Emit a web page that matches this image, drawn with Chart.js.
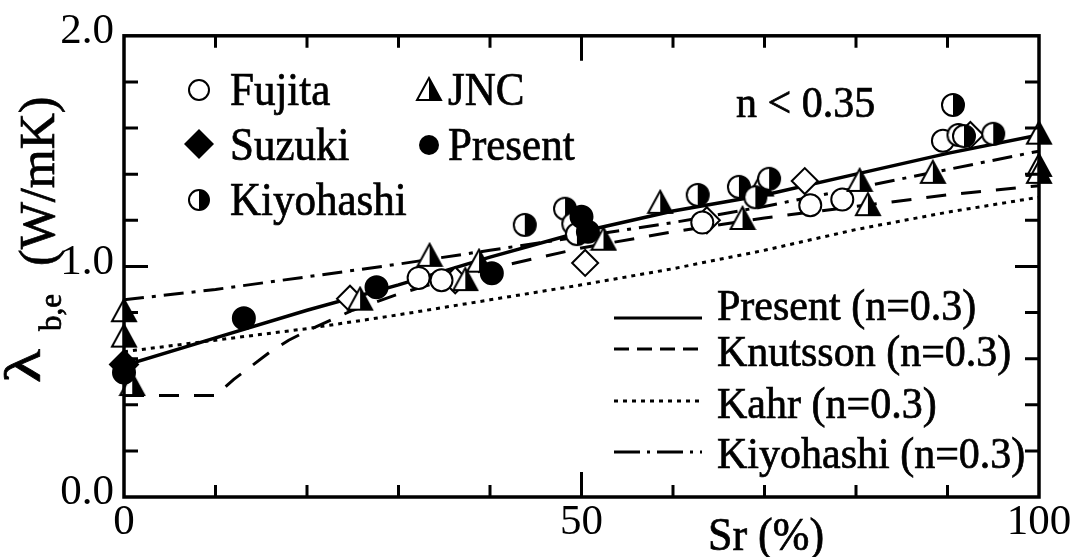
<!DOCTYPE html>
<html>
<head>
<meta charset="utf-8">
<script src="https://cdn.jsdelivr.net/npm/chart.js@4.4.0/dist/chart.umd.min.js"></script>
<style>
  body { margin: 0; background: #fff; }
  #wrap { width: 1077px; height: 557px; }
</style>
</head>
<body>
<div id="wrap"><canvas id="chart" width="1077" height="557"></canvas></div>
<script>
// model curves (n = 0.3)
const srModel = [0, 10, 20, 30, 40, 50, 60, 70, 80, 90, 100];
const presentModel = [0.57, 0.69, 0.81, 0.92, 1.04, 1.15, 1.24, 1.31, 1.40, 1.49, 1.57];
const kahrModel = [0.63, 0.68, 0.73, 0.79, 0.855, 0.92, 0.99, 1.07, 1.16, 1.235, 1.30];
const kiyohashiModel = [0.855, 0.90, 0.955, 1.01, 1.07, 1.13, 1.19, 1.26, 1.34, 1.42, 1.50];
const srKnutsson = [0, 10, 12, 14, 16, 18, 20, 25, 30, 35, 40, 50, 60, 70, 80, 90, 100];
const knutssonModel = [0.44, 0.44, 0.51, 0.57, 0.63, 0.68, 0.72, 0.81, 0.88, 0.94, 0.99, 1.08, 1.15, 1.21, 1.26, 1.31, 1.35];

// measured data
const fujitaSr = [32.2, 34.7, 63.2, 75.0, 78.5, 89.5];
const fujitaK = [0.95, 0.94, 1.19, 1.265, 1.29, 1.545];
const suzukiSr = [0];
const suzukiK = [0.575];
const kiyohashiSr = [43.8, 48.2, 49.1, 49.5, 62.7, 67.2, 69.0, 70.5, 90.6, 91.2, 91.8, 95.0];
const kiyohashiK = [1.18, 1.25, 1.185, 1.14, 1.31, 1.345, 1.30, 1.38, 1.70, 1.57, 1.565, 1.575];
const jncSr = [0, 0, 0.9, 25.8, 33.4, 37.3, 38.8, 52.4, 58.6, 67.6, 69.6, 80.4, 81.3, 88.4, 100, 100, 100];
const jncK = [0.81, 0.70, 0.49, 0.86, 1.05, 0.945, 1.025, 1.12, 1.28, 1.21, 1.355, 1.375, 1.27, 1.41, 1.58, 1.44, 1.41];
const presentSr = [0, 13.1, 27.6, 40.2, 50.0, 50.7];
const presentK = [0.54, 0.775, 0.91, 0.97, 1.215, 1.15];
const otherSr = [24.7, 36.2, 50.4, 63.7, 74.4, 92.5];
const otherK = [0.86, 0.94, 1.015, 1.20, 1.37, 1.57];

const FONT = '"Liberation Serif", "Times New Roman", serif';

function pts(xs, ys) {
    return xs.map((x, i) => ({ x: x, y: ys[i] }));
}

function halfCircle(r) {
    const c = document.createElement("canvas");
    c.width = c.height = 2 * r + 4;
    const g = c.getContext("2d");
    const m = r + 2;
    g.fillStyle = "#fff";
    g.beginPath(); g.arc(m, m, r, 0, Math.PI * 2); g.fill();
    g.fillStyle = "#000";
    g.beginPath(); g.moveTo(m, m - r); g.arc(m, m, r, -Math.PI / 2, Math.PI / 2); g.closePath(); g.fill();
    g.lineWidth = 2;
    g.beginPath(); g.arc(m, m, r, 0, Math.PI * 2); g.stroke();
    return c;
}

function halfTriangle(w, h) {
    const c = document.createElement("canvas");
    c.width = w + 4;
    c.height = h + 4;
    const g = c.getContext("2d");
    const cx = c.width / 2, top = 2, bot = h + 2, l = 2, r = w + 2;
    g.fillStyle = "#fff";
    g.beginPath(); g.moveTo(cx, top); g.lineTo(r, bot); g.lineTo(l, bot); g.closePath(); g.fill();
    g.fillStyle = "#000";
    g.beginPath(); g.moveTo(cx, top); g.lineTo(r, bot); g.lineTo(cx, bot); g.closePath(); g.fill();
    g.lineWidth = 2;
    g.beginPath(); g.moveTo(cx, top); g.lineTo(r, bot); g.lineTo(l, bot); g.closePath(); g.stroke();
    return c;
}

const halfC = halfCircle(11);
const halfT = halfTriangle(24, 22);
const halfCLegend = halfCircle(10);
const halfTLegend = halfTriangle(24, 22);

function markerSet(label, xs, ys, style, radius, fill) {
    return {
        label: label,
        data: pts(xs, ys),
        showLine: false,
        pointStyle: style,
        pointRadius: radius,
        pointBackgroundColor: fill,
        pointBorderColor: "#000",
        pointBorderWidth: 2,
        clip: false
    };
}

function lineSet(label, xs, ys, dash, width) {
    return {
        label: label,
        data: pts(xs, ys),
        showLine: true,
        borderColor: "#000",
        borderWidth: width,
        borderDash: dash,
        pointRadius: 0,
        fill: false,
        tension: 0
    };
}

// scanned look: fill plus a hairline stroke
function text(ctx, str, x, y, size, align) {
    ctx.save();
    ctx.translate(x, y);
    ctx.scale(1, 1.06);
    ctx.font = size + "px " + FONT;
    ctx.textAlign = align || "left";
    ctx.textBaseline = "alphabetic";
    ctx.lineWidth = 0.7;
    ctx.fillText(str, 0, 0);
    ctx.strokeText(str, 0, 0);
    ctx.restore();
}

function rotText(ctx, str, x, y, size, stretch) {
    ctx.save();
    ctx.translate(x, y);
    ctx.rotate(-Math.PI / 2);
    ctx.scale(stretch || 1, 1);
    ctx.font = size + "px " + FONT;
    ctx.textAlign = "left";
    ctx.textBaseline = "alphabetic";
    ctx.lineWidth = 0.7;
    ctx.fillText(str, 0, 0);
    ctx.strokeText(str, 0, 0);
    ctx.restore();
}

const decor = {
    id: "decor",
    afterDraw(chart) {
        const ctx = chart.ctx;
        const a = chart.chartArea;
        const xs = chart.scales.x, ys = chart.scales.y;
        ctx.save();
        ctx.strokeStyle = "#000";
        ctx.fillStyle = "#000";

        // frame
        ctx.lineWidth = 3.5;
        ctx.strokeRect(a.left, a.top, a.right - a.left, a.bottom - a.top);

        // inward ticks on all four sides
        ctx.lineWidth = 3;
        ctx.beginPath();
        for (let v = 10; v < 100; v += 10) {
            const p = xs.getPixelForValue(v);
            const len = v === 50 ? 25 : 12;
            ctx.moveTo(p, a.bottom); ctx.lineTo(p, a.bottom - len);
            ctx.moveTo(p, a.top); ctx.lineTo(p, a.top + len);
        }
        for (let i = 1; i < 10; i++) {
            const p = ys.getPixelForValue(i * 0.2);
            const len = i === 5 ? 24 : 14;
            ctx.moveTo(a.left, p); ctx.lineTo(a.left + len, p);
            ctx.moveTo(a.right, p); ctx.lineTo(a.right - len, p);
        }
        ctx.stroke();

        // axis titles
        text(ctx, "Sr (%)", 766, 550, 44, "center");
        rotText(ctx, "\u03bb", 40, 383, 50, 1.4);
        rotText(ctx, "b,e", 61, 331, 31);
        rotText(ctx, "(W/mK)", 54, 266, 50);

        // symbol legend
        ctx.lineWidth = 2;
        ctx.fillStyle = "#fff";
        ctx.beginPath(); ctx.arc(199, 90, 10, 0, Math.PI * 2); ctx.fill(); ctx.stroke();
        ctx.fillStyle = "#000";
        ctx.beginPath();
        ctx.moveTo(199, 129); ctx.lineTo(214, 144); ctx.lineTo(199, 159); ctx.lineTo(184, 144);
        ctx.closePath(); ctx.fill();
        ctx.drawImage(halfCLegend, 199 - halfCLegend.width / 2, 200 - halfCLegend.height / 2);
        ctx.drawImage(halfTLegend, 429 - halfTLegend.width / 2, 89 - halfTLegend.height / 2);
        ctx.beginPath(); ctx.arc(429, 145, 10, 0, Math.PI * 2); ctx.fill();

        text(ctx, "Fujita", 230, 105, 43);
        text(ctx, "Suzuki", 230, 160, 43);
        text(ctx, "Kiyohashi", 230, 215, 43);
        text(ctx, "JNC", 448, 105, 43);
        text(ctx, "Present", 448, 160, 43);
        text(ctx, "n < 0.35", 736, 117, 42);

        // line legend
        const rows = [
            { label: "Present (n=0.3)", dash: [], ly: 318, ty: 320 },
            { label: "Knutsson (n=0.3)", dash: [15, 8], ly: 349, ty: 366 },
            { label: "Kahr (n=0.3)", dash: [4, 5], ly: 401, ty: 418 },
            { label: "Kiyohashi (n=0.3)", dash: [26, 7, 3, 7], ly: 452, ty: 468 }
        ];
        rows.forEach(r => {
            ctx.lineWidth = 3;
            ctx.setLineDash(r.dash);
            ctx.beginPath(); ctx.moveTo(614, r.ly); ctx.lineTo(702, r.ly); ctx.stroke();
            ctx.setLineDash([]);
            text(ctx, r.label, 717, r.ty, 42);
        });
        ctx.restore();
    }
};

new Chart(document.getElementById("chart"), {
    type: "scatter",
    data: {
        datasets: [
            markerSet("Present", presentSr, presentK, "circle", 11, "#000"),
            markerSet("Suzuki", suzukiSr, suzukiK, "rectRot", 14, "#000"),
            markerSet("Kiyohashi", kiyohashiSr, kiyohashiK, halfC, 11, "#fff"),
            markerSet("JNC", jncSr, jncK, halfT, 12, "#fff"),
            markerSet("Fujita", fujitaSr, fujitaK, "circle", 11, "#fff"),
            markerSet("Other", otherSr, otherK, "rectRot", 13, "#fff"),
            lineSet("Present (n=0.3)", srModel, presentModel, [], 3.5),
            lineSet("Knutsson (n=0.3)", srKnutsson, knutssonModel, [20, 15], 3),
            lineSet("Kahr (n=0.3)", srModel, kahrModel, [4, 5], 3),
            lineSet("Kiyohashi (n=0.3)", srModel, kiyohashiModel, [20, 8, 4, 8], 3)
        ]
    },
    options: {
        responsive: false,
        animation: false,
        layout: { padding: { left: 0, right: 38, top: 33, bottom: 0 } },
        plugins: {
            legend: { display: false },
            tooltip: { enabled: false }
        },
        scales: {
            x: {
                type: "linear",
                min: 0,
                max: 100,
                grid: { display: false, drawTicks: false },
                border: { display: false },
                ticks: {
                    stepSize: 50,
                    padding: 0,
                    color: "#000",
                    maxRotation: 0,
                    font: { family: FONT, size: 43 }
                },
                afterFit(scale) { scale.height = 60; }
            },
            y: {
                type: "linear",
                min: 0,
                max: 2,
                grid: { display: false, drawTicks: false },
                border: { display: false },
                ticks: {
                    stepSize: 1,
                    padding: 10,
                    labelOffset: -4,
                    color: "#000",
                    font: { family: FONT, size: 43 },
                    callback: v => v.toFixed(1)
                },
                afterFit(scale) { scale.width = 124; }
            }
        }
    },
    plugins: [decor]
});
</script>
</body>
</html>
